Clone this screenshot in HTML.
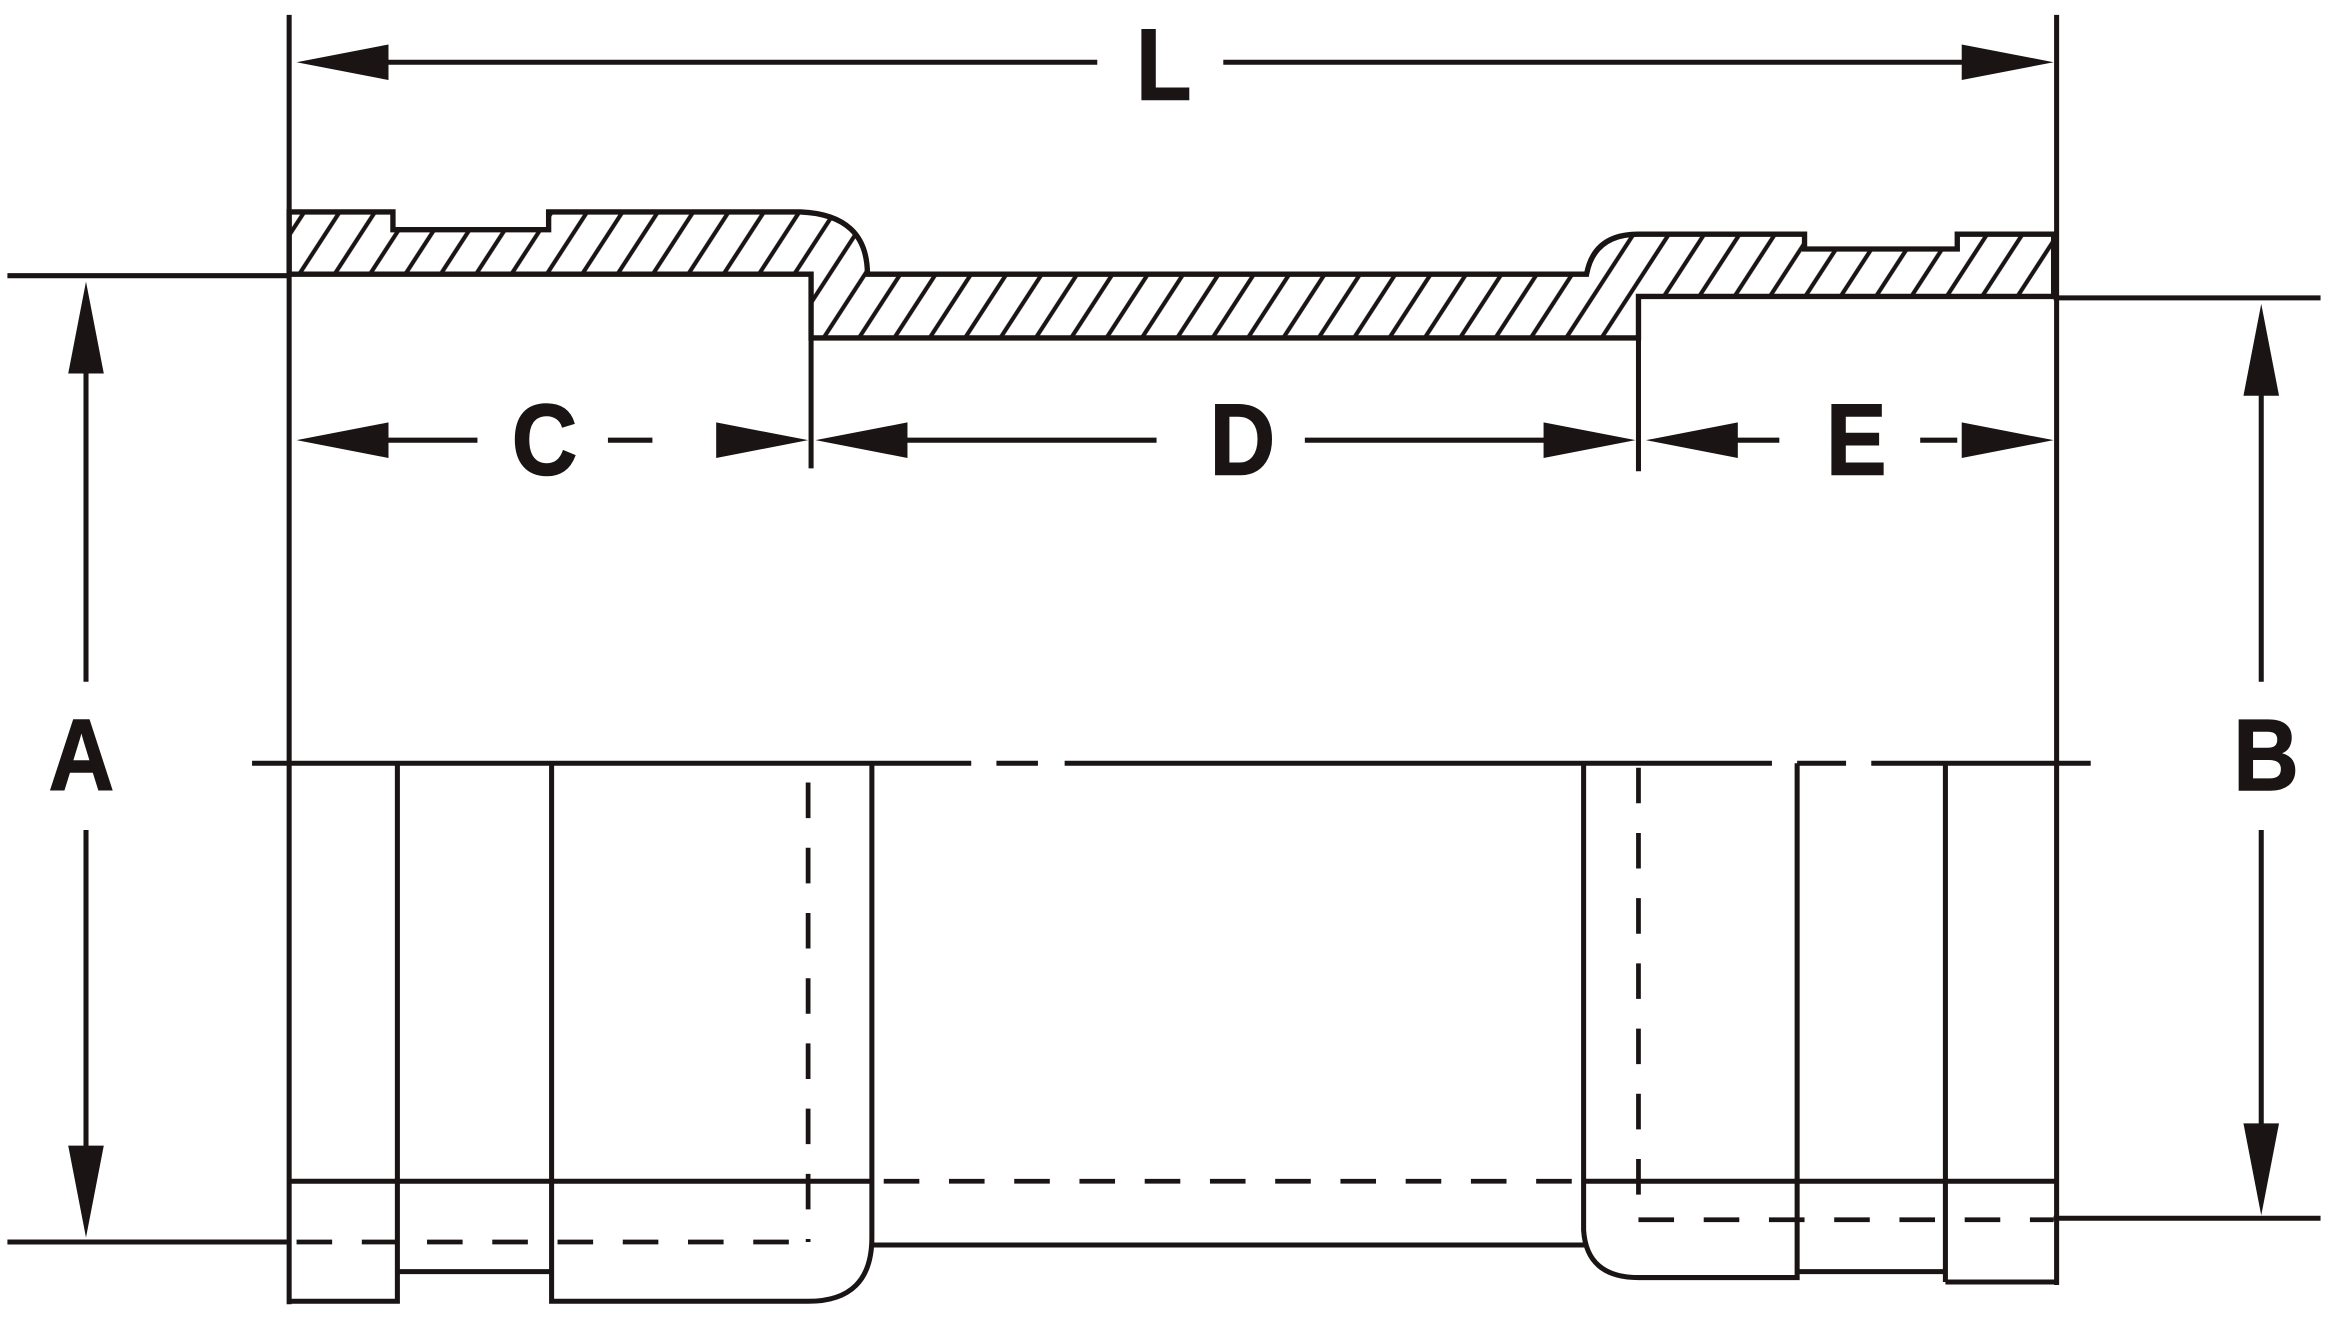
<!DOCTYPE html>
<html><head><meta charset="utf-8">
<style>
html,body{margin:0;padding:0;background:#fff;}
svg{display:block;}
text{font-family:"Liberation Sans",sans-serif;font-weight:bold;fill:#1a1414;}
</style></head>
<body>
<svg width="2325" height="1325" viewBox="0 0 1568 894" preserveAspectRatio="none" xmlns="http://www.w3.org/2000/svg">
<defs>
<pattern id="h" patternUnits="userSpaceOnUse" width="20" height="40" patternTransform="rotate(33)">
<line x1="10" y1="0" x2="10" y2="40" stroke="#1a1414" stroke-width="2.8"/>
</pattern>
</defs>
<g stroke="#1a1414" fill="none" stroke-width="3.4">
<line x1="195" y1="10" x2="195" y2="880"/>
<line x1="1387" y1="10" x2="1387" y2="867"/>
<line x1="255" y1="42" x2="740" y2="42"/>
<line x1="825" y1="42" x2="1330" y2="42"/>
<line x1="5" y1="186" x2="195" y2="186"/>
<line x1="1385" y1="201" x2="1565" y2="201"/>
<line x1="5" y1="838" x2="195" y2="838"/>
<line x1="1385" y1="822" x2="1565" y2="822"/>
<line x1="58" y1="245" x2="58" y2="460"/>
<line x1="58" y1="560" x2="58" y2="780"/>
<line x1="1525" y1="260" x2="1525" y2="460"/>
<line x1="1525" y1="560" x2="1525" y2="765"/>
<line x1="547" y1="228" x2="547" y2="316"/>
<line x1="1105" y1="228" x2="1105" y2="318"/>
<line x1="258" y1="297" x2="322" y2="297"/>
<line x1="410" y1="297" x2="440" y2="297"/>
<line x1="608" y1="297" x2="780" y2="297"/>
<line x1="880" y1="297" x2="1048" y2="297"/>
<line x1="1168" y1="297" x2="1200" y2="297"/>
<line x1="1295" y1="297" x2="1320" y2="297"/>
<line x1="170" y1="515" x2="655" y2="515"/>
<line x1="672" y1="515" x2="700" y2="515"/>
<line x1="718" y1="515" x2="1195" y2="515"/>
<line x1="1212" y1="515" x2="1245" y2="515"/>
<line x1="1262" y1="515" x2="1410" y2="515"/>
<path d="M195 878 H268 V515 M268 858 H372 M372 515 V878 H545 Q588 878 588 835 V515"/>
<line x1="588" y1="840" x2="1070" y2="840"/>
<path d="M1068 515 V830 Q1070 862 1105 862 H1212 V515 M1212 858 H1312 V515 M1312 865 H1387 M1312 858 V865"/>
<line x1="195" y1="797" x2="588" y2="797"/>
<line x1="1068" y1="797" x2="1387" y2="797"/>
</g>
<g stroke="#1a1414" fill="none" stroke-width="3.2" stroke-dasharray="24,20">
<line x1="545" y1="528" x2="545" y2="838"/>
<line x1="200" y1="838" x2="545" y2="838"/>
<line x1="596" y1="797" x2="1068" y2="797"/>
<line x1="1105" y1="518" x2="1105" y2="823"/>
<line x1="1105" y1="823" x2="1385" y2="823"/>
</g>
<path d="M195 143 H265 V155 H370 V143 H540 Q585 145 585 185 H1070 Q1075 158 1105 158 H1217 V168 H1320 V158 H1385 V200 H1105 V228 H547 V185 H195 Z" fill="url(#h)" stroke="#1a1414" stroke-width="3.6"/>
<g fill="#1a1414">
<polygon points="200,42 262,30 262,54"/>
<polygon points="1385,42 1323,30 1323,54"/>
<polygon points="58,190 46,252 70,252"/>
<polygon points="58,835 46,773 70,773"/>
<polygon points="1525,205 1513,267 1537,267"/>
<polygon points="1525,820 1513,758 1537,758"/>
<polygon points="200,297 262,285 262,309"/>
<polygon points="545,297 483,285 483,309"/>
<polygon points="550,297 612,285 612,309"/>
<polygon points="1103,297 1041,285 1041,309"/>
<polygon points="1110,297 1172,285 1172,309"/>
<polygon points="1385,297 1323,285 1323,309"/>
</g>
<g transform="scale(0.9 1)" stroke="#1a1414" stroke-width="1">
<text x="872" y="67" font-size="68" text-anchor="middle">L</text>
<text x="408" y="320" font-size="68" text-anchor="middle">C</text>
<text x="931" y="320" font-size="68" text-anchor="middle">D</text>
<text x="1391" y="320" font-size="68" text-anchor="middle">E</text>
<text x="61" y="533" font-size="68" text-anchor="middle">A</text>
<text x="1698" y="533" font-size="68" text-anchor="middle">B</text>
</g>
</svg>
</body></html>
